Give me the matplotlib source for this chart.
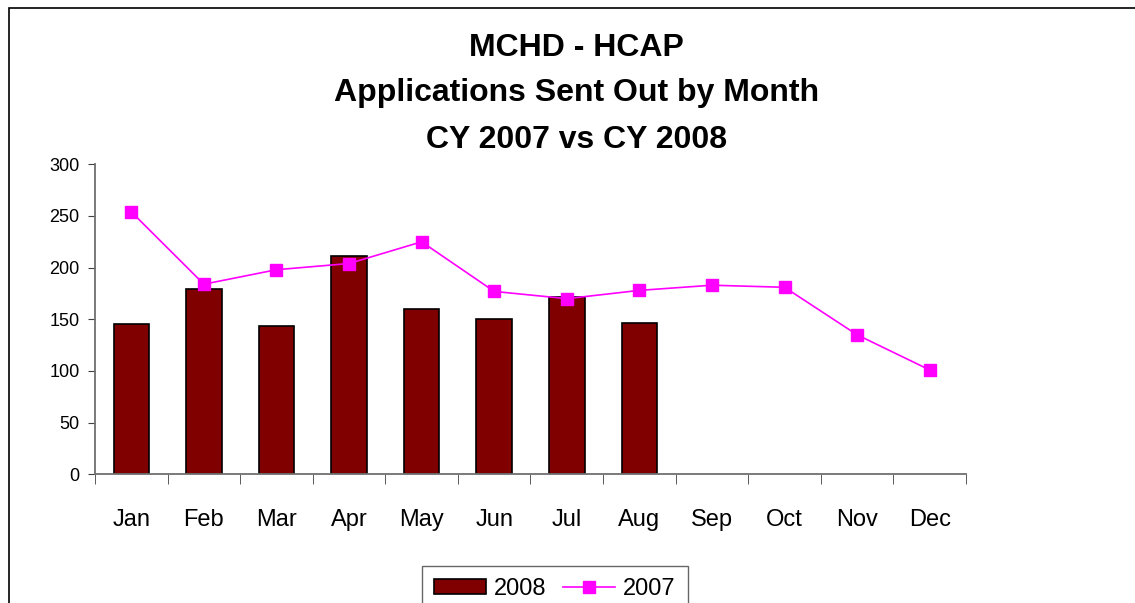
import numpy as np
import matplotlib.pyplot as plt
from matplotlib.patches import Rectangle

plt.rcParams['font.family'] = ['Liberation Sans', 'DejaVu Sans']

months = ['Jan', 'Feb', 'Mar', 'Apr', 'May', 'Jun',
          'Jul', 'Aug', 'Sep', 'Oct', 'Nov', 'Dec']
apps_2008 = [145, 179, 144, 211, 160, 150, 172, 146]
apps_2007 = [254, 184, 198, 204, 225, 177, 170, 178, 183, 181, 135, 101]

fig = plt.figure(figsize=(11.35, 6.03), dpi=100)
ax = fig.add_axes([0.0837, 0.2134, 0.7674, 0.5141])

x = np.arange(len(months))
bars = ax.bar(x[:len(apps_2008)], apps_2008, width=0.49, color='#800000',
              edgecolor='black', linewidth=1.2, label='2008', zorder=2)
line, = ax.plot(x, apps_2007, color='#FF00FF', linewidth=1.2, marker='s',
                markersize=9, label='2007', zorder=3)

ax.set_xlim(-0.5, 11.5)
ax.set_ylim(0, 300)
ax.set_yticks(np.arange(0, 301, 50))
ax.set_xticks(x)
ax.set_xticklabels(months)
ax.set_xticks(np.arange(-0.5, 12, 1), minor=True)
ax.tick_params(axis='x', which='major', length=0, pad=25, labelsize=17)
ax.tick_params(axis='x', which='minor', length=7, direction='out', color='#404040')
ax.tick_params(axis='y', length=5, direction='out', pad=6, labelsize=13, color='#404040')

for s in ['top', 'right']:
    ax.spines[s].set_visible(False)
for s in ['left', 'bottom']:
    ax.spines[s].set_color('#707070')
    ax.spines[s].set_linewidth(1.3)

fig.text(0.508, 0.920, 'MCHD - HCAP', ha='center', va='center',
         fontsize=23, fontweight='bold')
fig.text(0.508, 0.845, 'Applications Sent Out by Month', ha='center', va='center',
         fontsize=23, fontweight='bold')
fig.text(0.508, 0.767, 'CY 2007 vs CY 2008', ha='center', va='center',
         fontsize=23, fontweight='bold')

# outer chart border
fig.add_artist(Rectangle((9 / 1135, -0.1), 1.2, 1.1 - 9 / 603 + 0.001,
                         transform=fig.transFigure, fill=False,
                         edgecolor='black', linewidth=1.2))

leg = fig.legend([bars, line], ['2008', '2007'], loc='upper center',
                 bbox_to_anchor=(0.489, 0.061), borderaxespad=0, ncol=2,
                 fontsize=17, frameon=True, fancybox=False, edgecolor='#404040',
                 handlelength=2.2, handleheight=0.6, handletextpad=0.34,
                 columnspacing=0.7, borderpad=0.5)
leg.get_frame().set_linewidth(1.0)

fig.savefig('out.png', dpi=100)
